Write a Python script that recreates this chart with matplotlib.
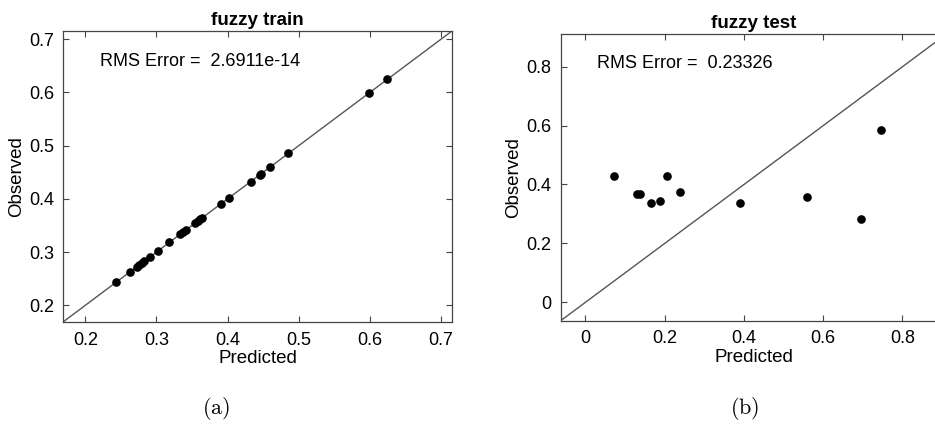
import matplotlib
matplotlib.use("Agg")
import matplotlib.pyplot as plt
import numpy as np

plt.rcParams['font.family'] = ['Liberation Sans', 'DejaVu Sans']
plt.rcParams['mathtext.fontset'] = 'cm'

# Data
train_pred = [0.2431, 0.2633, 0.2722, 0.2760, 0.2792, 0.2830, 0.2905, 0.3017, 0.3181,
              0.3331, 0.3369, 0.3416, 0.3547, 0.3584, 0.3613, 0.3636, 0.3913, 0.4016,
              0.4325, 0.4457, 0.4470, 0.4597, 0.4855, 0.5990, 0.6248]
train_obs = list(train_pred)
test_pred = [0.072, 0.131, 0.138, 0.166, 0.187, 0.206, 0.239, 0.389, 0.560, 0.696, 0.746]
test_obs = [0.430, 0.367, 0.367, 0.338, 0.345, 0.430, 0.373, 0.338, 0.359, 0.284, 0.585]
train_ticks = [0.2, 0.3, 0.4, 0.5, 0.6, 0.7]
test_ticks = [0, 0.2, 0.4, 0.6, 0.8]
train_lim = (0.1686, 0.7156)
test_lim = (-0.0625, 0.912)
titles = ["fuzzy train", "fuzzy test"]
rms_texts = ["RMS Error =  2.6911e-14", "RMS Error =  0.23326"]
sub_labels = [r"$\mathrm{(a)}$", r"$\mathrm{(b)}$"]

fig = plt.figure(figsize=(9.35, 4.3), dpi=100)
ax1 = fig.add_axes([0.0674, 0.2512, 0.4160, 0.6767])
ax2 = fig.add_axes([0.5997, 0.2542, 0.4130, 0.6674])

def style(ax, lim, ticks, title, rms, px, py):
    ax.set_xlim(lim)
    ax.set_ylim(lim)
    ax.set_xticks(ticks)
    ax.set_yticks(ticks)
    ax.set_xticklabels([f"{t:g}" for t in ticks])
    ax.set_yticklabels([f"{t:g}" for t in ticks])
    ax.tick_params(direction='in', top=True, right=True, length=4, width=0.8,
                   labelsize=13, color='#444444')
    ax.tick_params(axis='y', pad=6.5)
    ax.tick_params(axis='x', pad=7)
    for s in ax.spines.values():
        s.set_color('#444444')
        s.set_linewidth(0.9)
    ax.axline((0, 0), slope=1, color='#555555', lw=1.0, zorder=1)
    ax.plot(px, py, 'o', color='black', ms=5.2, zorder=3)
    ax.set_title(title, fontweight='bold', fontsize=13.5, pad=4)
    ax.set_xlabel("Predicted", fontsize=13.5, labelpad=1)
    ax.set_ylabel("Observed", fontsize=13.5, labelpad=3)
    ax.text(0.095, 0.895, rms, transform=ax.transAxes, fontsize=13, va='center', ha='left')

style(ax1, train_lim, train_ticks, titles[0], rms_texts[0], train_pred, train_obs)
style(ax2, test_lim, test_ticks, titles[1], rms_texts[1], test_pred, test_obs)

fig.text(0.231, 0.05, sub_labels[0], fontsize=16, ha='center', va='center')
fig.text(0.797, 0.05, sub_labels[1], fontsize=16, ha='center', va='center')

fig.savefig("out.png", dpi=100)
